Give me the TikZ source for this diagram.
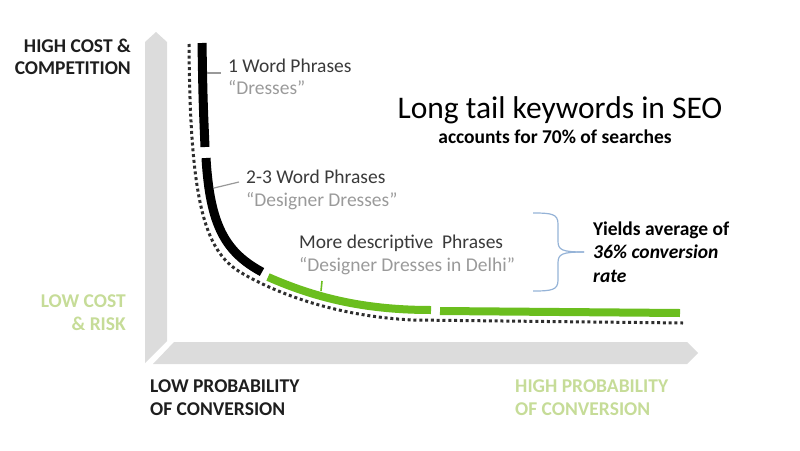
\documentclass[tikz,border=0pt]{standalone}
\usepackage{fontspec}
\setmainfont{Carlito}
\definecolor{axisgray}{HTML}{DCDCDC}
\definecolor{kgreen}{HTML}{6BBE1E}
\definecolor{lgreen}{HTML}{C6DC98}
\definecolor{darktext}{HTML}{1E1E1E}
\definecolor{phr}{HTML}{3A3A3A}
\definecolor{exgray}{HTML}{9A9A9A}
\definecolor{bracec}{HTML}{95B3D7}
\definecolor{dotc}{HTML}{2E2E2E}
\begin{document}
\begin{tikzpicture}[x=1pt,y=-1pt,
  axisbar/.style={fill=axisgray,draw=none},
  axlbl/.style={inner sep=0,font=\fontsize{19.5}{23}\selectfont\bfseries},
  phrase/.style={anchor=base west,inner sep=0,text=phr,font=\fontsize{19.5}{22}\selectfont},
  example/.style={anchor=base west,inner sep=0,text=exgray,font=\fontsize{19.5}{22}\selectfont},
  yld/.style={anchor=base west,inner sep=0,text=black,font=\fontsize{19.5}{22}\selectfont\bfseries},
  blackseg/.style={line width=9pt,black},
  greenseg/.style={line width=8pt,kgreen},
  dotcurve/.style={line width=3pt,dotc,dash pattern=on 3pt off 2.8pt},
  leader/.style={line width=1.2pt,gray!80},
  gleader/.style={line width=1.6pt,kgreen}]
\useasboundingbox (0,0) rectangle (800,450);
% axes
\fill[axisbar] (145,42) -- (156,32) -- (167,42) -- (167,341) -- (145,363) -- cycle;
\fill[axisbar] (153,364) -- (174,342) -- (687,342) -- (698,353) -- (687,364) -- cycle;
% dotted reference curve
\draw[dotcurve] (189,44) .. controls (190,200) and (204,250) .. (240,272)
  .. controls (270,290) and (330,316) .. (413,320) -- (683,323);
% curve segments
\draw[blackseg] (202,43) .. controls (203,100) .. (205,147);
\draw[blackseg] (206,158) .. controls (210,225) and (225,252) .. (262,272);
\draw[greenseg] (268,277) .. controls (320,300) and (370,310) .. (431,310);
\draw[greenseg] (440,311) -- (680,313);
% axis labels
\node[axlbl,anchor=base east,text=darktext] (hc1) at (131,52.5) {HIGH COST \&};
\node[axlbl,anchor=base east,text=darktext] (hc2) at (131,74) {COMPETITION};
\node[axlbl,anchor=base east,text=lgreen] (lc1) at (126,307) {LOW COST};
\node[axlbl,anchor=base east,text=lgreen] (lc2) at (126,330) {\& RISK};
\node[axlbl,anchor=base west,text=darktext] (lp1) at (150,392) {LOW PROBABILITY};
\node[axlbl,anchor=base west,text=darktext] (lp2) at (150,415) {OF CONVERSION};
\node[axlbl,anchor=base west,text=lgreen] (hp1) at (515,392) {HIGH PROBABILITY};
\node[axlbl,anchor=base west,text=lgreen] (hp2) at (515,415) {OF CONVERSION};
% title
\node[anchor=base,inner sep=0,font=\fontsize{31.5}{34}\selectfont] (title) at (560,118) {Long tail keywords in SEO};
\node[anchor=base,inner sep=0,font=\fontsize{19.5}{21}\selectfont\bfseries] (sub) at (555,143) {accounts for 70\% of searches};
% phrases
\node[phrase] (p1) at (228,72) {1 Word Phrases};
\node[example] (e1) at (228,94) {“Dresses”};
\node[phrase] (p2) at (246,183) {2-3 Word Phrases};
\node[example] (e2) at (246,206) {“Designer Dresses”};
\node[phrase] (p3) at (299,248) {More descriptive\ \ Phrases};
\node[example] (e3) at (299,271) {“Designer Dresses in Delhi”};
% leaders
\coordinate (l1a) at (207,73); \coordinate (l1b) at (221,73);
\draw[leader] (l1a) -- (l1b);
\coordinate (l2a) at (214,188); \coordinate (l2b) at (239,182);
\draw[leader] (l2a) -- (l2b);
\coordinate (l3a) at (321,291); \coordinate (l3b) at (322,281);
\draw[gleader] (l3a) -- (l3b);
% brace
\coordinate (bt) at (533,213); \coordinate (bb) at (533,291); \coordinate (btip) at (584,252);
\draw[bracec,line width=1.2pt] (bt) .. controls (552,213) and (558,214) .. (558,224)
  -- (558,241) .. controls (558,250) and (562,252) .. (btip);
\draw[bracec,line width=1.2pt] (bb) .. controls (552,291) and (558,290) .. (558,280)
  -- (558,263) .. controls (558,254) and (562,252) .. (btip);
% yields text
\node[yld] (y1) at (593,235) {Yields average of};
\node[yld] (y2) at (593,258) {\textit{36\% conversion}};
\node[yld] (y3) at (593,282) {\textit{rate}};
\end{tikzpicture}
\end{document}
